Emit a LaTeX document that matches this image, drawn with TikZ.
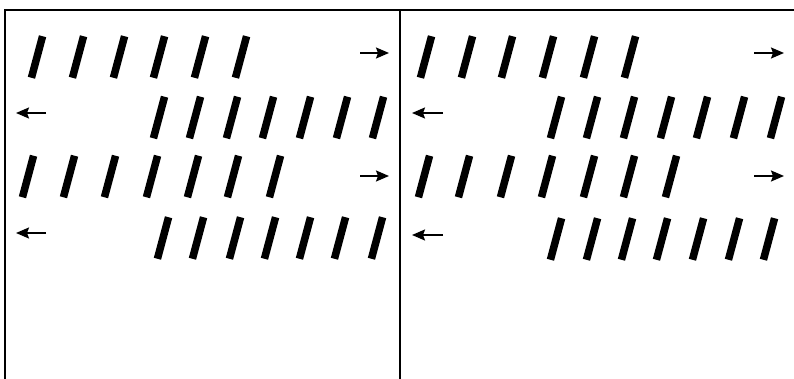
\documentclass[tikz,border=0pt]{standalone}
\usetikzlibrary{arrows.meta}
\begin{document}
\begin{tikzpicture}[x=1pt,y=-1pt,
  bar/.style={rectangle,fill=black,inner sep=0pt,minimum width=7.5pt,minimum height=43pt,rotate=-15},
  mv/.style={line width=1.8pt,-{Stealth[length=13pt,width=11pt,inset=2pt]}},
  frame/.style={line width=2pt,black}]
\useasboundingbox (0,0) rectangle (794,379);
% frame
\coordinate (bl) at (5,379);
\coordinate (tl) at (5,10);
\coordinate (tr) at (794,10);
\coordinate (dt) at (399.5,10);
\coordinate (db) at (399.5,379);
\draw[frame] (bl) -- (tl) -- (tr);
\draw[frame] (dt) -- (db);
% left panel bars
\foreach \x [count=\i] in {37,78,119,159,200,241} \node[bar] (La\i) at (\x,57) {};
\foreach \x [count=\i] in {159,195,232,268,305,342,378} \node[bar] (Lb\i) at (\x,117.5) {};
\foreach \x [count=\i] in {28,69,110,152,193,233,275} \node[bar] (Lc\i) at (\x,176.5) {};
\foreach \x [count=\i] in {163,198,235,270,305,340,377} \node[bar] (Ld\i) at (\x,238) {};
% right panel bars
\foreach \x [count=\i] in {426,467,507,548,589,630} \node[bar] (Ra\i) at (\x,57) {};
\foreach \x [count=\i] in {556,592,629,666,702,739,776} \node[bar] (Rb\i) at (\x,117.5) {};
\foreach \x [count=\i] in {424,464,506,547,589,629,671} \node[bar] (Rc\i) at (\x,176.5) {};
\foreach \x [count=\i] in {556,592,627,662,698,734,769} \node[bar] (Rd\i) at (\x,239) {};
% arrows
\coordinate (a1s) at (360,53);  \coordinate (a1e) at (389,53);
\coordinate (a2s) at (46,113);  \coordinate (a2e) at (16,113);
\coordinate (a3s) at (360,176); \coordinate (a3e) at (389,176);
\coordinate (a4s) at (46,233);  \coordinate (a4e) at (16,233);
\coordinate (b1s) at (754,53);  \coordinate (b1e) at (784,53);
\coordinate (b2s) at (443,113); \coordinate (b2e) at (412,113);
\coordinate (b3s) at (754,176); \coordinate (b3e) at (784,176);
\coordinate (b4s) at (443,235); \coordinate (b4e) at (412,235);
\draw[mv] (a1s) -- (a1e);
\draw[mv] (a2s) -- (a2e);
\draw[mv] (a3s) -- (a3e);
\draw[mv] (a4s) -- (a4e);
\draw[mv] (b1s) -- (b1e);
\draw[mv] (b2s) -- (b2e);
\draw[mv] (b3s) -- (b3e);
\draw[mv] (b4s) -- (b4e);
\end{tikzpicture}
\end{document}
